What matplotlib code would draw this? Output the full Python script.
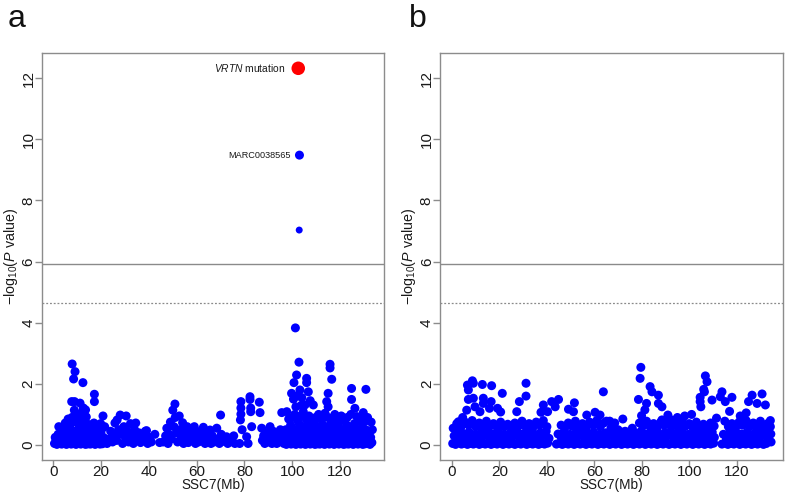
import matplotlib
matplotlib.use("Agg")
import matplotlib.pyplot as plt

plt.rcParams['font.family'] = ['Liberation Sans', 'DejaVu Sans']
plt.rcParams['mathtext.fontset'] = 'custom'
plt.rcParams['mathtext.rm'] = 'Liberation Sans'
plt.rcParams['mathtext.it'] = 'Liberation Sans:italic'

# ---------------- data: panel a ----------------
a_pos = [
    # 0-22 Mb
    0.5, 1.5, 2.5, 3.5, 4.5, 5.5, 6.5, 7.5, 8.5, 9.5, 10.5, 11.5, 12.5, 13.5, 14.5, 15.5, 16.5, 17.5, 18.5, 19.5, 20.5,
    0.8, 1.2, 2.0, 2.8, 3.3, 4.0, 4.8, 5.3, 6.0, 6.8, 7.3, 8.0, 8.8, 9.3, 10.0, 10.8, 11.3, 12.0, 12.8, 13.3, 14.0,
    14.8, 15.3, 16.0, 16.8, 17.3, 18.0, 18.8, 19.3, 20.0, 21.0, 21.8,
    2.3, 5.0, 6.2, 7.0, 7.8, 8.3, 9.0, 9.8, 10.5, 11.0, 11.8, 12.3, 13.0, 13.8, 14.5, 15.8, 17.0, 18.5, 19.8, 20.8, 21.5,
    7.9, 9.1, 8.5, 12.4, 17.2, 17.2, 7.7, 8.9, 11.2, 12.6, 8.8, 11.8, 13.5,
    # 22-41 Mb
    22.5, 23.5, 24.0, 24.8, 25.5, 25.8, 26.7, 26.5, 27.3, 28.0, 28.3, 29.0, 29.5, 30.5, 30.2, 31.0, 31.5, 32.3,
    32.8, 33.5, 34.0, 34.5, 35.0, 35.8, 36.5, 37.0, 37.8, 38.5, 39.0, 39.5, 40.3, 41.0,
    # 42-62 Mb
    42.5, 44.5, 46.0, 47.0, 47.5, 48.0, 48.5, 49.0, 49.5, 50.0, 50.9, 50.5, 51.0, 51.5, 52.0, 52.7, 53.0, 53.5,
    54.1, 54.5, 55.0, 55.5, 56.0, 56.5, 57.0, 57.8, 58.3, 59.0, 59.5, 60.0, 60.8, 61.5,
    # 62-76 Mb
    62.0, 62.8, 63.5, 64.0, 64.8, 65.6, 66.0, 66.5, 67.3, 68.4, 68.8, 69.5, 70.0, 70.3, 71.0, 72.5, 73.0, 74.6, 75.5, 76.0,
    # 76-96 Mb
    78.0, 78.5, 78.5, 78.5, 78.3, 79.0, 80.9, 81.5, 82.3, 82.3, 82.6, 82.6, 83.0, 86.2, 86.5, 87.2, 87.5, 88.0,
    88.5, 89.0, 89.5, 90.0, 90.7, 91.0, 91.5, 92.0, 92.5, 93.0, 93.5, 94.0, 94.5, 95.0, 95.6, 95.5,
    # 96-134 Mb
    96.5, 97.5, 98.5, 99.5, 100.5, 101.5, 102.5, 103.5, 104.5, 105.5, 106.5, 107.5, 108.5, 109.5, 110.5, 111.5,
    112.5, 113.5, 114.5, 115.5, 116.5, 117.5, 118.5, 119.5, 120.5, 121.5, 122.5, 123.5, 124.5, 125.5, 126.5,
    127.5, 128.5, 129.5, 130.5, 131.5, 132.5, 133.3,
    96.8, 97.3, 98.0, 98.8, 99.3, 100.0, 100.8, 101.3, 102.0, 102.8, 103.3, 104.0, 104.8, 105.3, 106.0, 106.8,
    107.3, 108.0, 108.8, 109.3, 110.0, 110.8, 111.3, 112.0, 112.8, 113.3, 114.0, 114.8, 115.3, 116.0, 116.8,
    117.3, 118.0, 118.8, 119.3, 120.0, 120.8, 121.3, 122.0, 122.8, 123.3, 124.0, 124.8, 125.3, 126.0, 126.8,
    127.3, 128.0, 128.8, 129.3, 130.0, 130.8, 131.3, 132.0, 132.8, 133.5,
    97.7, 98.5, 100.2, 101.0, 102.3, 103.5, 104.6, 105.3, 105.8, 107.0, 108.8, 108.0, 109.8, 111.0, 112.3, 113.7,
    114.4, 115.0, 115.0, 116.5, 117.8, 119.0, 120.5, 121.8, 123.0, 124.5, 126.2, 127.0, 127.8, 129.7, 129.0,
    130.5, 131.5, 133.0,
    100.5, 102.0, 104.0, 107.5, 101.5, 103.8,
    102.8, 115.8, 115.8, 101.8, 116.5, 106.0, 106.0, 100.7, 99.7, 106.7, 103.2, 115.0, 124.8, 130.8, 124.8, 101.3,
]
a_logp = [
    0.05, 0.02, 0.08, 0.03, 0.10, 0.02, 0.06, 0.03, 0.08, 0.02, 0.05, 0.03, 0.07, 0.02, 0.04, 0.03, 0.06, 0.02, 0.05, 0.03, 0.04,
    0.25, 0.18, 0.35, 0.22, 0.45, 0.30, 0.55, 0.20, 0.40, 0.28, 0.50, 0.35, 0.22, 0.45, 0.30, 0.55, 0.25, 0.40, 0.20, 0.50, 0.32,
    0.18, 0.42, 0.28, 0.50, 0.22, 0.38, 0.15, 0.30, 0.45, 0.25, 0.12,
    0.60, 0.72, 0.85, 0.65, 0.90, 0.75, 0.98, 0.82, 0.70, 0.95, 0.62, 0.85, 0.75, 0.92, 0.68, 0.60, 0.72, 0.65, 0.70, 0.95, 0.60,
    2.65, 2.40, 2.16, 2.04, 1.66, 1.42, 1.42, 1.42, 1.37, 1.21, 1.14, 1.05, 1.15,
    0.05, 0.20, 0.45, 0.10, 0.30, 0.72, 0.82, 0.15, 0.50, 0.98, 0.35, 0.05, 0.60, 0.95, 0.25, 0.45, 0.10, 0.70,
    0.30, 0.05, 0.50, 0.72, 0.20, 0.40, 0.08, 0.30, 0.15, 0.45, 0.47, 0.05, 0.25, 0.10,
    0.35, 0.08, 0.10, 0.30, 0.55, 0.05, 0.35, 0.75, 0.20, 1.14, 1.34, 0.60, 0.90, 0.40, 0.10, 0.95, 0.50, 0.25,
    0.73, 0.05, 0.45, 0.20, 0.60, 0.08, 0.35, 0.15, 0.50, 0.60, 0.05, 0.30, 0.10, 0.45,
    0.20, 0.58, 0.05, 0.35, 0.15, 0.49, 0.05, 0.30, 0.10, 0.55, 0.20, 0.05, 0.98, 0.35, 0.12, 0.27, 0.05, 0.11, 0.30, 0.05,
    0.05, 1.42, 1.21, 1.01, 0.82, 0.50, 0.27, 0.05, 1.58, 1.49, 1.21, 1.09, 0.60, 1.40, 1.06, 0.55, 0.15, 0.30,
    0.05, 0.40, 0.20, 0.10, 0.60, 0.30, 0.05, 0.45, 0.15, 0.25, 0.05, 0.35, 0.10, 0.50, 1.06, 0.20,
    0.05, 0.02, 0.08, 0.03, 0.06, 0.02, 0.05, 0.03, 0.07, 0.02, 0.05, 0.03, 0.06, 0.02, 0.04, 0.03,
    0.06, 0.02, 0.05, 0.03, 0.07, 0.02, 0.05, 0.03, 0.06, 0.02, 0.04, 0.03, 0.06, 0.02, 0.05,
    0.03, 0.06, 0.02, 0.04, 0.05, 0.02, 0.08,
    0.30, 0.50, 0.20, 0.40, 0.65, 0.30, 0.50, 0.20, 0.45, 0.70, 0.30, 0.55, 0.20, 0.40, 0.65, 0.30,
    0.50, 0.20, 0.45, 0.70, 0.30, 0.55, 0.20, 0.45, 0.65, 0.30, 0.50, 0.20, 0.40, 0.70, 0.30,
    0.55, 0.20, 0.45, 0.65, 0.30, 0.50, 0.20, 0.40, 0.65, 0.30, 0.50, 0.20, 0.45, 0.70, 0.30,
    0.50, 0.20, 0.40, 0.60, 0.30, 0.50, 0.20, 0.40, 0.25, 0.50,
    1.09, 0.85, 0.90, 1.00, 0.80, 0.95, 1.09, 1.31, 0.85, 0.95, 1.31, 0.80, 0.90, 1.00, 0.82, 1.04,
    1.42, 1.25, 0.90, 0.82, 1.00, 0.85, 0.95, 0.80, 0.90, 1.00, 1.20, 0.93, 0.80, 1.06, 0.85,
    0.78, 0.90, 0.75,
    1.50, 1.60, 1.55, 1.45, 1.25, 1.30,
    2.71, 2.64, 2.52, 2.29, 2.15, 2.18, 2.04, 2.04, 1.69, 1.74, 1.80, 1.69, 1.85, 1.82, 1.49, 3.83,
]
a_top_pos = [102.9, 103.0]
a_top_logp = [7.03, 9.48]
a_top_size = [25, 42]
marc_label = "MARC0038565"
vrtn_pos = [102.5]
vrtn_logp = [12.32]

# ---------------- data: panel b ----------------
b_pos = [
    # bottom row
    0.3, 1.5, 2.8, 4.0, 5.3, 6.5, 7.8, 9.0, 10.3, 11.5, 12.8, 14.0, 15.3, 16.5, 17.8, 19.0, 20.3, 21.5, 22.8, 24.0,
    25.3, 26.5, 27.8, 29.0, 30.3, 31.5, 32.8, 34.0, 35.3, 36.5, 37.8, 39.0, 40.3, 44.0, 45.3, 46.5, 47.8, 49.0,
    50.3, 51.5, 52.8, 54.0, 55.3, 56.5, 57.8, 59.0, 60.3, 61.5, 62.8, 64.0, 65.3, 66.5, 67.8, 69.0, 70.3, 71.5,
    72.8, 74.0, 75.3, 76.5, 77.8, 79.0, 80.3, 81.5, 82.8, 84.0, 85.3, 86.5, 87.8, 89.0, 90.3, 91.5, 92.8, 94.0,
    95.3, 96.5, 97.8, 99.0, 100.3, 101.5, 102.8, 104.0, 105.3, 106.5, 107.8, 109.0, 110.3, 113.8, 115.0, 116.3,
    117.5, 118.8, 120.0, 121.3, 122.5, 123.8, 125.0, 126.3, 127.5, 128.8, 130.0, 131.3, 132.5, 134.5,
    # lower-middle
    0.9, 2.2, 3.4, 4.7, 5.9, 7.2, 8.4, 9.7, 10.9, 12.2, 13.4, 14.7, 15.9, 17.2, 18.4, 19.7, 20.9, 22.2, 23.4,
    24.7, 25.9, 27.2, 28.4, 29.7, 30.9, 32.2, 33.4, 34.7, 35.9, 37.2, 38.4, 39.7, 40.9, 44.7, 45.9, 47.2, 48.4,
    49.7, 50.9, 52.2, 53.4, 54.7, 55.9, 57.2, 58.4, 59.7, 60.9, 62.2, 63.4, 64.7, 65.9, 67.2, 68.4, 69.7, 70.9,
    72.2, 73.4, 74.7, 75.9, 77.2, 78.4, 79.7, 80.9, 82.2, 83.4, 84.7, 85.9, 87.2, 88.4, 89.7, 90.9, 92.2, 93.4,
    94.7, 95.9, 97.2, 98.4, 99.7, 100.9, 102.2, 103.4, 104.7, 105.9, 107.2, 108.4, 109.7, 110.6, 114.4, 115.7,
    116.9, 118.2, 119.4, 120.7, 121.9, 123.2, 124.4, 125.7, 126.9, 128.2, 129.4, 130.7, 131.9, 133.2, 134.4,
    # upper-middle
    0.5, 2.0, 3.8, 5.5, 7.0, 8.5, 10.0, 11.5, 13.0, 14.5, 16.0, 17.5, 19.0, 20.5, 22.0, 23.5, 25.0, 26.5, 28.0,
    29.5, 31.0, 32.5, 34.0, 35.5, 37.0, 38.5, 40.0, 46.0, 47.5, 49.0, 50.5, 52.0, 53.5, 55.0, 56.5, 58.0, 59.5,
    61.0, 62.5, 64.0, 67.0, 70.0, 73.0, 76.0, 79.0, 80.5, 82.0, 83.5, 85.0, 86.5, 88.0, 89.5, 91.0, 92.5, 94.0,
    95.5, 97.0, 98.5, 100.0, 101.5, 103.0, 104.5, 106.0, 107.5, 109.0, 110.5, 115.0, 116.5, 118.0, 119.5, 121.0,
    122.5, 124.0, 125.5, 127.0, 128.5, 130.0, 131.5, 133.0,
    # scattered upper points
    8.6, 9.0, 6.5, 6.9, 12.8, 16.7, 21.2, 31.2, 31.2, 28.4, 63.8, 9.0, 6.9, 13.2, 13.2, 6.2, 9.7, 11.8, 15.8,
    16.5, 19.2, 20.5, 27.3, 37.5, 38.5, 40.3, 42.0, 44.9, 43.5, 49.1, 51.6, 51.2, 56.8, 60.3, 66.5, 2.7, 4.5,
    79.6, 79.3, 83.5, 84.3, 87.0, 88.5, 87.0, 78.6, 82.0, 81.3, 79.9, 80.6, 106.8, 107.5, 106.1, 106.4, 104.6,
    104.6, 104.9, 109.6, 113.8, 113.1, 115.2, 118.0, 126.5, 130.7, 125.0, 128.6, 132.1, 134.2, 134.2, 98.1, 91.0,
    92.5, 88.5, 65.1, 68.6, 62.4, 72.0, 95.0, 101.0, 111.5, 121.5, 124.0, 117.0,
]
b_logp = [
    0.05, 0.02, 0.08, 0.03, 0.06, 0.02, 0.05, 0.03, 0.07, 0.02, 0.05, 0.03, 0.06, 0.02, 0.05, 0.03, 0.07, 0.02, 0.05, 0.03,
    0.06, 0.02, 0.05, 0.03, 0.07, 0.02, 0.05, 0.03, 0.06, 0.02, 0.05, 0.03, 0.06, 0.03, 0.06, 0.02, 0.05, 0.03,
    0.07, 0.02, 0.05, 0.03, 0.06, 0.02, 0.05, 0.03, 0.07, 0.02, 0.05, 0.03, 0.06, 0.02, 0.05, 0.03, 0.07, 0.02,
    0.05, 0.03, 0.06, 0.02, 0.05, 0.03, 0.07, 0.02, 0.05, 0.03, 0.06, 0.02, 0.05, 0.03, 0.07, 0.02, 0.05, 0.03,
    0.06, 0.02, 0.05, 0.03, 0.07, 0.02, 0.05, 0.03, 0.06, 0.02, 0.05, 0.03, 0.06, 0.03, 0.06, 0.02,
    0.05, 0.03, 0.07, 0.02, 0.05, 0.03, 0.06, 0.02, 0.05, 0.03, 0.07, 0.02, 0.05, 0.10,
    0.30, 0.45, 0.22, 0.38, 0.28, 0.42, 0.25, 0.35, 0.20, 0.40, 0.30, 0.45, 0.22, 0.36, 0.28, 0.42, 0.25, 0.35, 0.20,
    0.40, 0.30, 0.45, 0.22, 0.36, 0.28, 0.42, 0.25, 0.35, 0.20, 0.40, 0.30, 0.45, 0.22, 0.36, 0.28, 0.42, 0.25,
    0.35, 0.20, 0.40, 0.30, 0.45, 0.22, 0.36, 0.28, 0.42, 0.25, 0.35, 0.20, 0.40, 0.30, 0.45, 0.22, 0.36, 0.28,
    0.42, 0.25, 0.35, 0.20, 0.40, 0.30, 0.45, 0.22, 0.36, 0.28, 0.42, 0.25, 0.35, 0.20, 0.40, 0.30, 0.45, 0.22,
    0.36, 0.28, 0.42, 0.25, 0.35, 0.20, 0.40, 0.30, 0.45, 0.22, 0.36, 0.28, 0.42, 0.25, 0.35, 0.20,
    0.40, 0.30, 0.45, 0.22, 0.36, 0.28, 0.42, 0.25, 0.35, 0.20, 0.40, 0.30, 0.45, 0.22, 0.36,
    0.55, 0.70, 0.60, 0.75, 0.65, 0.80, 0.60, 0.72, 0.55, 0.78, 0.62, 0.70, 0.58, 0.75, 0.60, 0.68, 0.55, 0.72, 0.62,
    0.78, 0.60, 0.70, 0.55, 0.75, 0.65, 0.80, 0.60, 0.65, 0.55, 0.72, 0.62, 0.78, 0.60, 0.70, 0.55, 0.75, 0.65,
    0.80, 0.60, 0.72, 0.55, 0.50, 0.45, 0.55, 0.72, 0.62, 0.78, 0.60, 0.70, 0.55, 0.75, 0.65, 0.80, 0.60, 0.72,
    0.55, 0.78, 0.62, 0.70, 0.58, 0.75, 0.60, 0.68, 0.55, 0.72, 0.62, 0.78, 0.60, 0.70, 0.55, 0.75,
    0.65, 0.80, 0.60, 0.72, 0.55, 0.78, 0.62, 0.70,
    2.10, 2.02, 1.96, 1.80, 1.98, 1.94, 1.69, 2.02, 1.60, 1.42, 1.74, 1.53, 1.49, 1.53, 1.36, 1.14, 1.25, 1.09, 1.20,
    1.42, 1.20, 1.08, 1.09, 1.07, 1.31, 1.09, 1.42, 1.49, 1.25, 1.17, 1.38, 1.09, 0.98, 1.07, 0.78, 0.76, 0.90,
    2.54, 2.18, 1.91, 1.74, 1.63, 1.25, 1.36, 1.49, 1.36, 1.15, 0.96, 0.75, 2.26, 2.07, 1.82, 1.74, 1.56,
    1.42, 1.25, 1.47, 1.74, 1.58, 1.42, 1.56, 1.63, 1.67, 1.42, 1.36, 1.31, 0.80, 0.60, 0.95, 0.98,
    0.82, 0.82, 0.78, 0.72, 0.98, 0.85, 0.90, 1.00, 0.88, 0.95, 1.05, 1.10,
]

# thresholds (-log10 P)
sig_genome = 5.92
sig_suggest = 4.63

x_ticks = [0, 20, 40, 60, 80, 100, 120]
y_ticks = [0, 2, 4, 6, 8, 10, 12]
panel_labels = ["a", "b"]

# ---------------- figure ----------------
W, H = 787, 496
fig = plt.figure(figsize=(W / 100, H / 100), dpi=100)
AX_H = (460 - 52.7)
ax_a = fig.add_axes([41.7 / W, 36 / H, (384.3 - 41.7) / W, AX_H / H])
ax_b = fig.add_axes([440 / W, 36 / H, (782.7 - 440) / W, AX_H / H])

box_col = "#8c8c8c"
blue = "#0000ff"
txt_col = "#1a1a1a"

for ax, xl, left_px, width_px, ylab_x in ((ax_a, (-4.85, 138.5), 41.7, 342.6, 11.0),
                                         (ax_b, (-5.06, 139.4), 440.0, 342.7, 408.5)):
    ax.set_xlim(*xl)
    ax.set_ylim(-0.49, 12.83)
    for s in ax.spines.values():
        s.set_color(box_col)
        s.set_linewidth(1.0)
    ax.set_xticks(x_ticks)
    ax.set_yticks(y_ticks)
    ax.tick_params(axis="both", colors=box_col, length=5, width=1.0, labelsize=11, labelcolor=txt_col)
    ax.tick_params(axis="x", pad=-1.5)
    ax.tick_params(axis="y", pad=-0.5)
    for lab in ax.get_yticklabels():
        lab.set_rotation(90)
        lab.set_va("center")
    ax.axhline(sig_genome, color="#8a8a8a", lw=1.0, zorder=1)
    ax.axhline(sig_suggest, color="#8a8a8a", lw=0.9, ls=(0, (1.5, 1.5)), zorder=1)
    ax.set_xlabel("SSC7(Mb)", fontsize=9.8, color=txt_col)
    ax.xaxis.set_label_coords(0.5, (460 - 485) / AX_H)
    ax.xaxis.label.set_va("center")
    ax.set_ylabel(r"$-\mathrm{log}_{10}(\mathit{P}\ \mathrm{value})$", fontsize=10.3, color=txt_col)
    ax.yaxis.set_label_coords((ylab_x - left_px) / width_px, 0.5)
    ax.yaxis.label.set_va("center")

ax_a.scatter(a_pos, a_logp, s=42, color=blue, edgecolors="none", zorder=3)
ax_a.scatter(a_top_pos, a_top_logp, s=a_top_size, color=blue, edgecolors="none", zorder=3)
ax_a.scatter(vrtn_pos, vrtn_logp, s=95, color="#ff0000", edgecolors="none", zorder=4)
ax_a.annotate(r"$\mathit{VRTN}$ mutation", xy=(vrtn_pos[0], vrtn_logp[0]), xytext=(-9, 0),
              textcoords="offset points", ha="right", va="center", fontsize=7.4, color=txt_col)
ax_a.annotate(marc_label, xy=(a_top_pos[1], a_top_logp[1]), xytext=(-6, 0),
              textcoords="offset points", ha="right", va="center", fontsize=6.6, color=txt_col)

ax_b.scatter(b_pos, b_logp, s=42, color=blue, edgecolors="none", zorder=3)

fig.text(8 / W, 1 - 27 / H, panel_labels[0], fontsize=23, color="#111111", ha="left", va="baseline")
fig.text(409 / W, 1 - 27 / H, panel_labels[1], fontsize=23, color="#111111", ha="left", va="baseline")

fig.savefig("out.png", dpi=100)
